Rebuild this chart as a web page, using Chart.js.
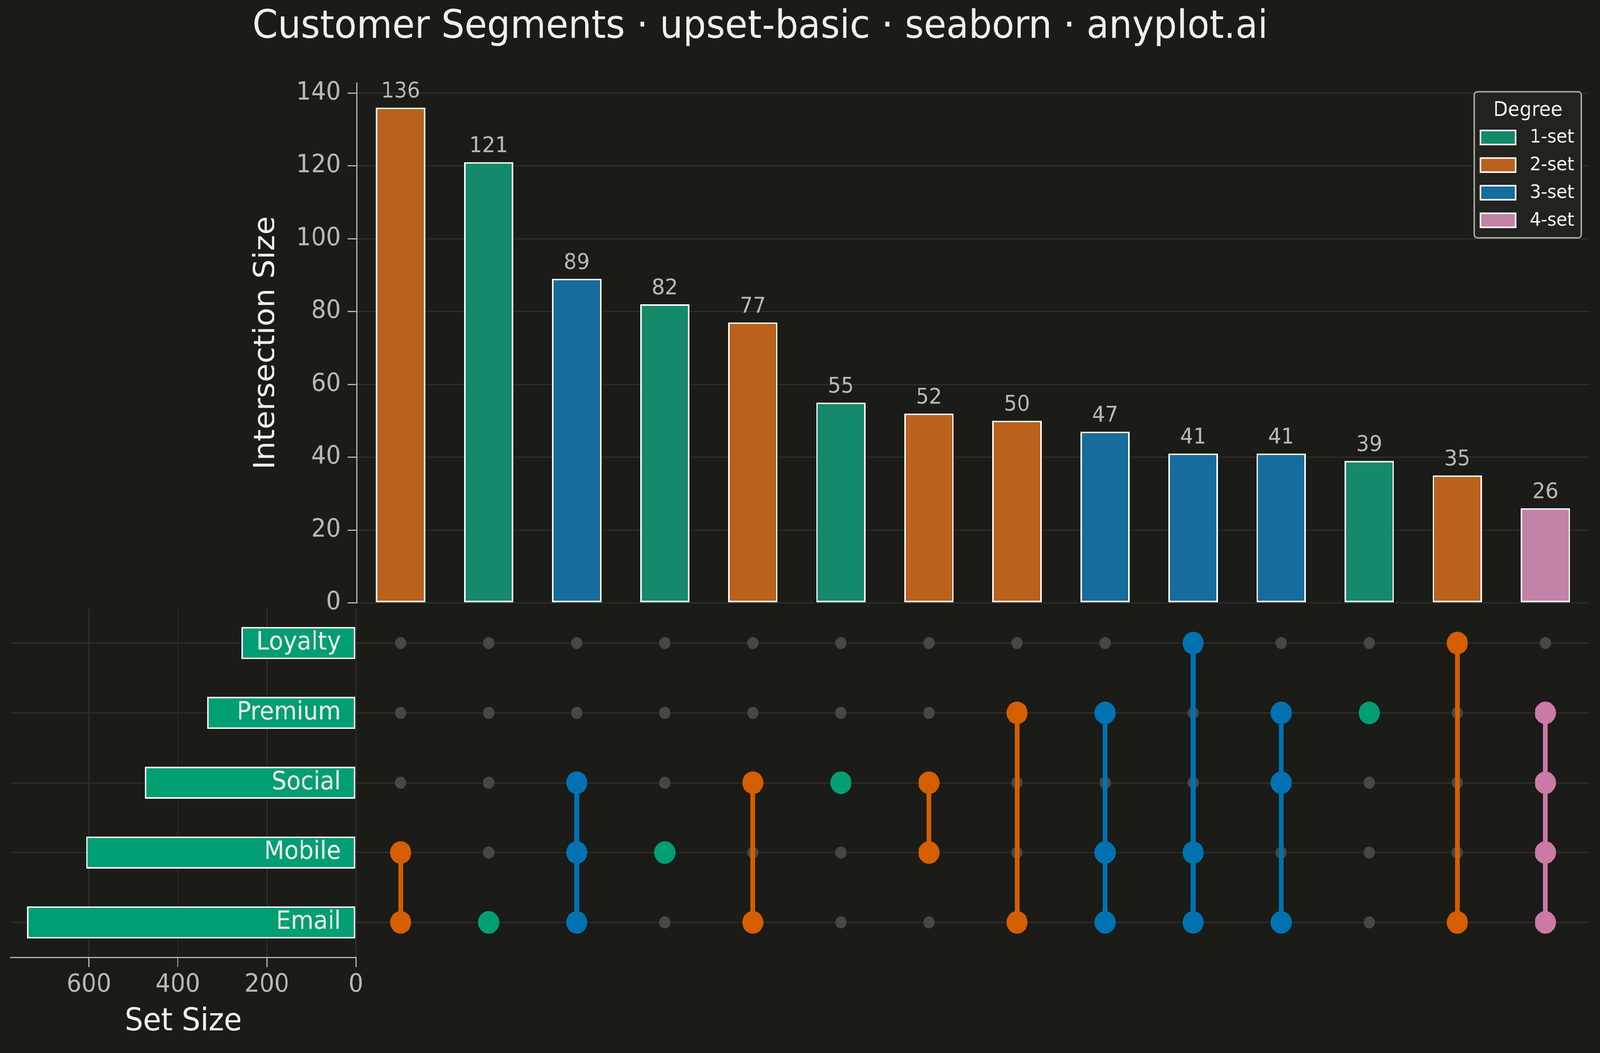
<!DOCTYPE html>
<html>
<head>
<meta charset="utf-8">
<title>Customer Segments · upset-basic</title>
<script src="https://cdn.jsdelivr.net/npm/chart.js@4.4.1/dist/chart.umd.min.js"></script>
<style>
  html, body { margin: 0; padding: 0; background: #1b1b17; overflow: hidden; }
  #page { width: 4379px; height: 2696px; position: relative; transform-origin: 0 0; }
  canvas { position: absolute; }
  #bars { left: -189px; top: 0; }
  #matrix { left: 900px; top: 1500px; }
  #sets { left: 0; top: 1500px; }
</style>
</head>
<body>
<div id="page">
<canvas id="sets" width="1000" height="1196"></canvas>
<canvas id="matrix" width="3479" height="1000"></canvas>
<canvas id="bars" width="4568" height="1600"></canvas>
</div>
<script>
// sets, bottom row of the matrix first
const setNames = ["Email", "Mobile", "Social", "Premium", "Loyalty"];
const setSizes = [739, 606, 474, 334, 257];
const setSizeTicks = [0, 200, 400, 600];

// intersections, largest first
const intersectionSizes = [136, 121, 89, 82, 77, 55, 52, 50, 47, 41, 41, 39, 35, 26];
const intersectionSets = [
  ["Mobile", "Email"],
  ["Email"],
  ["Social", "Mobile", "Email"],
  ["Mobile"],
  ["Social", "Email"],
  ["Social"],
  ["Social", "Mobile"],
  ["Premium", "Email"],
  ["Premium", "Mobile", "Email"],
  ["Loyalty", "Mobile", "Email"],
  ["Premium", "Social", "Email"],
  ["Premium"],
  ["Loyalty", "Email"],
  ["Premium", "Social", "Mobile", "Email"],
];
const sizeTicks = [0, 20, 40, 60, 80, 100, 120, 140];
const degreeLabels = ["1-set", "2-set", "3-set", "4-set"];

// colours per degree
const dotColors = ["#009e73", "#d55e00", "#0072b2", "#cc79a7"];
const barColors = ["#148a6a", "#ba611b", "#166c9c", "#c283a6"];

const TEXT = "#f0efe8";
const TICK = "#b9b9b1";
const GRID = "#2e2e2a";
const FONT = "'DejaVu Sans'";

// the page is laid out at 4379x2696, stretch it onto the real viewport
const sx = window.innerWidth / 4379;
const sy = window.innerHeight / 2696;
document.getElementById("page").style.transform = "scale(" + sx + "," + sy + ")";

Chart.defaults.font.family = FONT;
Chart.defaults.color = TICK;

const base = {
  responsive: false,
  devicePixelRatio: 1,
  animation: false,
  events: [],
};

// numbers above the bars
const valueLabels = {
  id: "valueLabels",
  afterDatasetsDraw(chart) {
    const ctx = chart.ctx;
    const meta = chart.getDatasetMeta(0);
    ctx.save();
    ctx.font = "56px " + FONT;
    ctx.fillStyle = TICK;
    ctx.textAlign = "center";
    ctx.textBaseline = "alphabetic";
    meta.data.forEach((bar, i) => {
      ctx.fillText(String(intersectionSizes[i]), bar.x, bar.y - 26);
    });
    ctx.restore();
  },
};

// legend box in the top right corner
const degreeLegend = {
  id: "degreeLegend",
  afterDraw(chart) {
    const ctx = chart.ctx;
    const w = 293, h = 374;
    const left = chart.chartArea.right - 22 - w;
    const top = chart.chartArea.top + 23;
    ctx.save();
    ctx.beginPath();
    ctx.roundRect(left, top, w, h, 8);
    ctx.fillStyle = "#22221f";
    ctx.fill();
    ctx.lineWidth = 4;
    ctx.strokeStyle = "#a3a39c";
    ctx.stroke();

    ctx.fillStyle = TEXT;
    ctx.font = "52px " + FONT;
    ctx.textAlign = "center";
    ctx.textBaseline = "alphabetic";
    ctx.fillText("Degree", left + w / 2, top + 62);

    ctx.font = "48px " + FONT;
    ctx.textAlign = "left";
    ctx.textBaseline = "middle";
    degreeLabels.forEach((label, i) => {
      const cy = top + 117 + i * 70.7;
      ctx.fillStyle = barColors[i];
      ctx.fillRect(left + 17, cy - 18, 96, 36);
      ctx.lineWidth = 4;
      ctx.strokeStyle = "#ffffff";
      ctx.strokeRect(left + 17, cy - 18, 96, 36);
      ctx.fillStyle = TEXT;
      ctx.fillText(label, left + 152, cy + 1);
    });
    ctx.restore();
  },
};

// intersection size bars
new Chart(document.getElementById("bars"), {
  type: "bar",
  data: {
    labels: intersectionSets.map((m) => m.join(" & ")),
    datasets: [
      {
        data: intersectionSizes,
        backgroundColor: intersectionSets.map((m) => barColors[m.length - 1]),
        borderColor: "#ffffff",
        borderWidth: 4,
        borderSkipped: false,
        barPercentage: 0.56,
        categoryPercentage: 1,
      },
    ],
  },
  options: {
    ...base,
    layout: { padding: { left: 0, right: 29, top: 0, bottom: 43 } },
    plugins: {
      legend: { display: false },
      tooltip: { enabled: false },
      title: {
        display: true,
        text: "Customer Segments · upset-basic · seaborn · anyplot.ai",
        color: TEXT,
        font: { size: 100, weight: "normal" },
        padding: { top: 11, bottom: 81 },
      },
    },
    scales: {
      x: { display: false },
      y: {
        min: 0,
        max: 142.8,
        afterBuildTicks: (s) => {
          s.ticks = sizeTicks.map((v) => ({ value: v }));
        },
        afterFit: (s) => {
          s.width = 1165;
        },
        ticks: { font: { size: 64 }, color: TICK, padding: 18 },
        grid: { color: GRID, lineWidth: 3, tickLength: 25, tickColor: TICK, tickWidth: 3 },
        border: { color: TICK, width: 3 },
        title: {
          display: true,
          text: "Intersection Size",
          color: TEXT,
          font: { size: 78 },
          padding: { top: 872, bottom: 0 },
        },
      },
    },
  },
  plugins: [valueLabels, degreeLegend],
});

// membership matrix
const inactiveDots = [];
const activeDots = [];
const activeColors = [];
const connectors = [];
intersectionSets.forEach((members, col) => {
  setNames.forEach((name, row) => {
    if (members.includes(name)) {
      activeDots.push({ x: col, y: row });
      activeColors.push(dotColors[members.length - 1]);
    } else {
      inactiveDots.push({ x: col, y: row });
    }
  });
  if (members.length > 1) {
    const rows = members.map((n) => setNames.indexOf(n));
    connectors.push({
      type: "line",
      data: [
        { x: col, y: Math.min(...rows) },
        { x: col, y: Math.max(...rows) },
      ],
      showLine: true,
      borderColor: dotColors[members.length - 1],
      borderWidth: 13,
      pointRadius: 0,
      order: 2,
    });
  }
});

new Chart(document.getElementById("matrix"), {
  type: "scatter",
  data: {
    datasets: [
      {
        data: activeDots,
        pointRadius: 29,
        pointBorderWidth: 0,
        pointBackgroundColor: activeColors,
        order: 1,
      },
      ...connectors,
      {
        data: inactiveDots,
        pointRadius: 15.5,
        pointBorderWidth: 0,
        pointBackgroundColor: "#474743",
        order: 3,
      },
    ],
  },
  options: {
    ...base,
    layout: { padding: { left: 76, right: 29, top: 57, bottom: 49 } },
    plugins: { legend: { display: false }, tooltip: { enabled: false } },
    scales: {
      x: { type: "linear", min: -0.5, max: 13.5, display: false },
      y: {
        type: "linear",
        min: -0.5,
        max: 4.5,
        afterBuildTicks: (s) => {
          s.ticks = setNames.map((_, i) => ({ value: i }));
        },
        afterFit: (s) => {
          s.width = 0;
        },
        ticks: { display: false },
        grid: { color: GRID, lineWidth: 3, drawTicks: false },
        border: { display: false },
      },
    },
  },
});

// set size bars, set names written inside them
new Chart(document.getElementById("sets"), {
  type: "bar",
  data: {
    labels: setNames,
    datasets: [
      {
        data: setSizes,
        backgroundColor: "#009e73",
        borderColor: "#ffffff",
        borderWidth: 4,
        borderSkipped: false,
        barPercentage: 0.46,
        categoryPercentage: 1,
      },
    ],
  },
  options: {
    ...base,
    indexAxis: "y",
    layout: { padding: { left: 29, right: 26, top: 57, bottom: 0 } },
    plugins: { legend: { display: false }, tooltip: { enabled: false } },
    scales: {
      x: {
        type: "linear",
        reverse: true,
        min: 0,
        max: 776,
        afterBuildTicks: (s) => {
          s.ticks = setSizeTicks.map((v) => ({ value: v }));
        },
        afterFit: (s) => {
          s.height = 245;
        },
        ticks: { font: { size: 64 }, color: TICK, padding: 8 },
        grid: { color: GRID, lineWidth: 3, tickLength: 25, tickColor: TICK, tickWidth: 3 },
        border: { color: TICK, width: 3 },
        title: {
          display: true,
          text: "Set Size",
          color: TEXT,
          font: { size: 80 },
          padding: { top: 0, bottom: 31 },
        },
      },
      y: {
        position: "right",
        reverse: true,
        afterFit: (s) => {
          s.width = 0;
        },
        ticks: { mirror: true, padding: -41, z: 1, font: { size: 64 }, color: TEXT },
        grid: { offset: false, drawTicks: false, color: GRID, lineWidth: 3 },
        border: { display: false },
      },
    },
  },
});
</script>
</body>
</html>
